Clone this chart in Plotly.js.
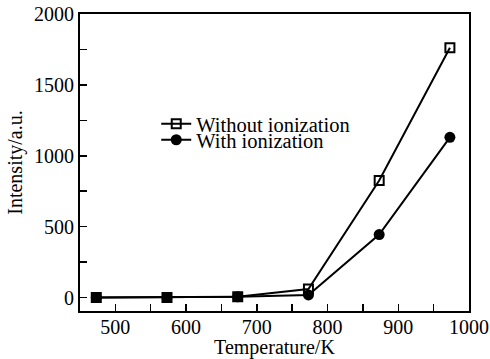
<!DOCTYPE html>
<html>
<head>
<script src="https://cdn.plot.ly/plotly-3.0.1.min.js"></script>
<style>body{margin:0;padding:0;background:#fff}#chart{width:490px;height:359px}</style>
</head>
<body>
<div id="chart"></div>
<script>
const temperature = [473, 573, 673, 773, 873, 973];
const withoutIonization = [0, 0, 5, 60, 825, 1762];
const withIonization = [0, 0, 5, 18, 444, 1130];
const seriesNames = ["Without ionization", "With ionization"];

const fam = "Liberation Serif, Times New Roman, serif";
const tickFont = {family: fam, size: 20, color: "#000"};
const titleFont = {family: fam, size: 20, color: "#000"};
const legendFont = {family: fam, size: 20.5, color: "#000"};

const traces = [
  {x: temperature, y: withoutIonization, name: seriesNames[0], mode: "lines+markers",
   legend: "legend",
   line: {color: "#000", width: 2},
   marker: {symbol: "square-open", size: 9, color: "#000", line: {width: 2}}},
  {x: temperature, y: withIonization, name: seriesNames[1], mode: "lines+markers",
   legend: "legend2",
   line: {color: "#000", width: 2},
   marker: {symbol: "circle", size: 11, color: "#000"}}
];

const legBase = {xanchor: "left", yanchor: "middle", bgcolor: "rgba(0,0,0,0)", font: legendFont,
                 borderwidth: 0};

const layout = {
  width: 490, height: 359,
  margin: {l: 80, r: 21, t: 14, b: 48},
  paper_bgcolor: "#fff", plot_bgcolor: "#fff",
  font: tickFont,
  showlegend: true,
  legend: Object.assign({x: 0.196, y: 0.630}, legBase),
  legend2: Object.assign({x: 0.196, y: 0.576}, legBase),
  xaxis: {
    range: [450, 1000], tickvals: [500, 600, 700, 800, 900, 1000],
    ticks: "inside", ticklen: 7, tickwidth: 1.5, tickcolor: "#000",
    ticklabelstandoff: -3,
    minor: {dtick: 50, tick0: 450, ticks: "inside", ticklen: 7, tickwidth: 1.5, tickcolor: "#000"},
    showline: true, linecolor: "#000", linewidth: 2, mirror: true,
    showgrid: false, zeroline: false,
    title: {text: "Temperature/K", font: titleFont, standoff: 0},
    tickfont: tickFont
  },
  yaxis: {
    range: [-95, 2000], tickvals: [0, 500, 1000, 1500, 2000],
    ticks: "inside", ticklen: 7, tickwidth: 1.5, tickcolor: "#000",
    minor: {dtick: 250, tick0: 0, ticks: "inside", ticklen: 7, tickwidth: 1.5, tickcolor: "#000"},
    showline: true, linecolor: "#000", linewidth: 2, mirror: true,
    showgrid: false, zeroline: false,
    title: {text: "Intensity/a.u.", font: titleFont, standoff: 6},
    tickfont: tickFont
  }
};

Plotly.newPlot("chart", traces, layout, {displayModeBar: false, staticPlot: true});
</script>
</body>
</html>
